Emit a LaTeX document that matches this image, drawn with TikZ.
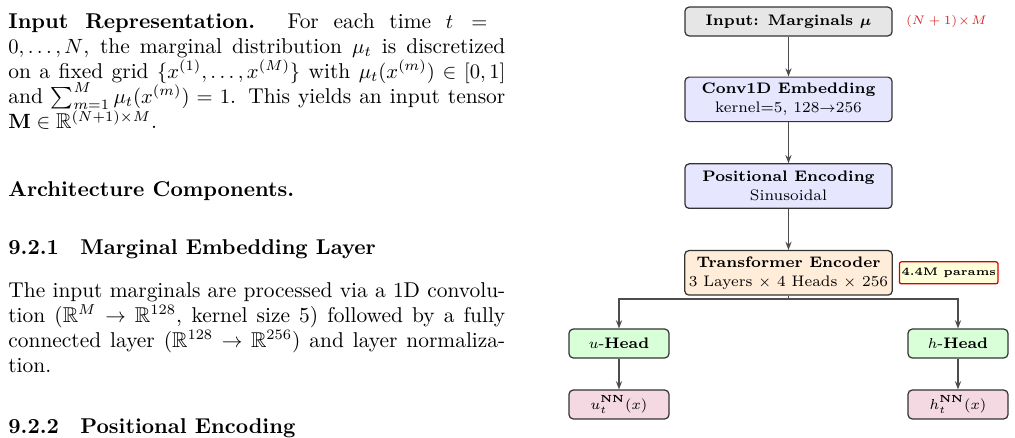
\documentclass[tikz,border=0pt]{standalone}
\usepackage{amsmath,amssymb}
\usepackage{tikz}
\usetikzlibrary{arrows.meta,positioning}
\definecolor{inputfill}{RGB}{230,230,230}
\definecolor{embfill}{RGB}{230,230,255}
\definecolor{encfill}{RGB}{255,236,217}
\definecolor{headfill}{RGB}{217,255,217}
\definecolor{outfill}{RGB}{245,217,226}
\definecolor{paramfill}{RGB}{255,255,217}
\definecolor{dimred}{RGB}{214,39,40}

\begin{document}
\begin{tikzpicture}[
  x=0.4854pt, y=-0.4854pt,
  node distance=19.7pt,
  block/.style={draw=black!80, line width=0.6pt, rounded corners=2pt, minimum width=100.5pt,
                minimum height=14pt, font=\fontsize{7.4}{9.2}\selectfont, align=center, inner sep=2pt},
  tall/.style={block, minimum height=21.6pt},
  head/.style={block, minimum width=48.5pt},
  arr/.style={-{Stealth[length=4pt,width=3pt]}, line width=0.6pt, black!70},
  para/.style={anchor=base west, inner sep=0pt, text width=241.2pt, align=justify,
               font=\fontsize{10.4}{12.2}\selectfont, execute at begin node={\lineskiplimit=-8pt}},
]
\useasboundingbox (0,0) rectangle (1015,438);

% Text column
\node[para] (inrep) at (8,28) {\textbf{Input Representation.} For each time $t ={}$\linebreak
  $0,\dots,N$, the marginal distribution $\mu_t$ is discretized\linebreak
  on a fixed grid $\{x^{(1)},\dots,x^{(M)}\}$ with $\mu_t(x^{(m)}) \in [0,1]$\linebreak
  and $\sum_{m=1}^M \mu_t(x^{(m)}) = 1$. This yields an input tensor\linebreak
  $\mathbf{M} \in \mathbb{R}^{(N+1)\times M}$.};
\node[para] (arch) at (8,196) {\textbf{Architecture Components.}};
\node[para] (sec1) at (8,254) {\textbf{9.2.1\quad Marginal Embedding Layer}};
\node[para] (embtxt) at (8,297) {The input marginals are processed via a 1D convolu-\linebreak
  tion ($\mathbb{R}^M \to \mathbb{R}^{128}$, kernel size 5) followed by a fully\linebreak
  connected layer ($\mathbb{R}^{128} \to \mathbb{R}^{256}$) and layer normaliza-\linebreak
  tion.};
\node[para] (sec2) at (8,433) {\textbf{9.2.2\quad Positional Encoding}};

% Nodes
\node[block, fill=inputfill] (input) at (788.5,21.5) {\textbf{Input: Marginals $\boldsymbol{\mu}$}};
\node[tall, fill=embfill, below=19.4pt of input] (conv) {\textbf{Conv1D Embedding}\\kernel=5, 128$\to$256};
\node[tall, fill=embfill, below=19.9pt of conv] (pos) {\textbf{Positional Encoding}\\Sinusoidal};
\node[tall, fill=encfill, below=19.9pt of pos] (enc) {\textbf{Transformer Encoder}\\3 Layers $\times$ 4 Heads $\times$ 256};
\node[head, fill=headfill] (uhead) at (619,343.5) {$u$-\textbf{Head}};
\node[head, fill=headfill] (hhead) at (958,343.5) {$h$-\textbf{Head}};
\node[head, fill=outfill, below=15pt of uhead] (uout) {$u_t^{\mathbf{NN}}(x)$};
\node[head, fill=outfill, below=15pt of hhead] (hout) {$h_t^{\mathbf{NN}}(x)$};
\coordinate (split) at (788.5,299);

% Side notes
\node[right=6.3pt of input, inner sep=0pt, text=dimred, font=\fontsize{6.2}{7.5}\selectfont] (dims) {$(N+1)\!\times\! M$};
\node[draw=red!85!black, line width=0.6pt, fill=paramfill, rounded corners=1pt, right=2.9pt of enc,
      minimum width=45.6pt, minimum height=10.7pt, inner sep=1pt,
      font=\fontsize{5.3}{6.5}\selectfont\bfseries] (params) {4.4M params};

% Connectors
\draw[arr] (input) -- (conv);
\draw[arr] (conv) -- (pos);
\draw[arr] (pos) -- (enc);
\draw[line width=0.6pt, black!70] (enc) -- (split);
\draw[arr] (split) -| (uhead);
\draw[arr] (split) -| (hhead);
\draw[arr] (uhead) -- (uout);
\draw[arr] (hhead) -- (hout);
\end{tikzpicture}
\end{document}
